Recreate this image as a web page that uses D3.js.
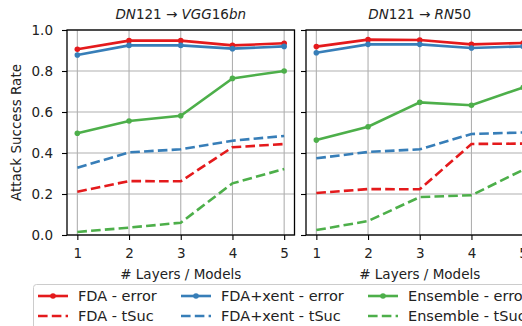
<!DOCTYPE html>
<html>
<head>
<meta charset="utf-8">
<script src="https://cdn.jsdelivr.net/npm/d3@7"></script>
<style>
  body { margin: 0; background: #fff; }
  text { font-family: "DejaVu Sans", sans-serif; }
</style>
</head>
<body>
<script>
// x values: number of layers / models
var layers = [1, 2, 3, 4, 5];
var yTicks = [0.0, 0.2, 0.4, 0.6, 0.8, 1.0];

// DN121 -> VGG16bn
var vggFdaErr   = [0.906, 0.948, 0.948, 0.925, 0.935];
var vggXentErr  = [0.878, 0.925, 0.925, 0.909, 0.920];
var vggEnsErr   = [0.496, 0.556, 0.582, 0.764, 0.800];
var vggFdaSuc   = [0.211, 0.263, 0.262, 0.428, 0.444];
var vggXentSuc  = [0.328, 0.403, 0.418, 0.460, 0.483];
var vggEnsSuc   = [0.015, 0.036, 0.060, 0.252, 0.322];

// DN121 -> RN50
var rnFdaErr    = [0.919, 0.953, 0.951, 0.930, 0.937];
var rnXentErr   = [0.889, 0.930, 0.930, 0.912, 0.920];
var rnEnsErr    = [0.463, 0.528, 0.647, 0.633, 0.720];
var rnFdaSuc    = [0.205, 0.224, 0.223, 0.444, 0.446];
var rnXentSuc   = [0.374, 0.405, 0.418, 0.493, 0.500];
var rnEnsSuc    = [0.024, 0.068, 0.185, 0.194, 0.318];

var red = '#e41a1c', blue = '#377eb8', green = '#4daf4a';

var panels = [
  { title: [['DN', 'i'], ['121', 'n'], [' \u2192 ', 'n'], ['VGG', 'i'], ['16', 'n'], ['bn', 'i']],
    x0: 67, series: [
      { name: 'FDA - error', v: vggFdaErr, c: red, dash: false },
      { name: 'FDA+xent - error', v: vggXentErr, c: blue, dash: false },
      { name: 'Ensemble - error', v: vggEnsErr, c: green, dash: false },
      { name: 'FDA - tSuc', v: vggFdaSuc, c: red, dash: true },
      { name: 'FDA+xent - tSuc', v: vggXentSuc, c: blue, dash: true },
      { name: 'Ensemble - tSuc', v: vggEnsSuc, c: green, dash: true } ] },
  { title: [['DN', 'i'], ['121', 'n'], [' \u2192 ', 'n'], ['RN', 'i'], ['50', 'n']],
    x0: 306, series: [
      { name: 'FDA - error', v: rnFdaErr, c: red, dash: false },
      { name: 'FDA+xent - error', v: rnXentErr, c: blue, dash: false },
      { name: 'Ensemble - error', v: rnEnsErr, c: green, dash: false },
      { name: 'FDA - tSuc', v: rnFdaSuc, c: red, dash: true },
      { name: 'FDA+xent - tSuc', v: rnXentSuc, c: blue, dash: true },
      { name: 'Ensemble - tSuc', v: rnEnsSuc, c: green, dash: true } ] }
];

var W = 522, H = 326;
var plotTop = 30, plotBottom = 235, pw = 227.5;

var svg = d3.select('body').append('svg')
  .attr('width', W).attr('height', H);

var yScale = d3.scaleLinear().domain([0, 1]).range([plotBottom, plotTop]);

panels.forEach(function (p, pi) {
  var xScale = d3.scaleLinear().domain([0.8, 5.2]).range([p.x0, p.x0 + pw]);
  var g = svg.append('g');

  // grid
  g.selectAll('.vg').data(layers).enter().append('line')
    .attr('x1', d => xScale(d)).attr('x2', d => xScale(d))
    .attr('y1', plotTop).attr('y2', plotBottom)
    .attr('stroke', '#b0b0b0').attr('stroke-width', 1.1);
  g.selectAll('.hg').data(yTicks).enter().append('line')
    .attr('x1', p.x0).attr('x2', p.x0 + pw)
    .attr('y1', d => yScale(d)).attr('y2', d => yScale(d))
    .attr('stroke', '#b0b0b0').attr('stroke-width', 1.1);

  // lines
  var line = d3.line().x((d, i) => xScale(layers[i])).y(d => yScale(d));
  p.series.forEach(function (s) {
    g.append('path').datum(s.v)
      .attr('d', line)
      .attr('fill', 'none')
      .attr('stroke', s.c)
      .attr('stroke-width', 2.6)
      .attr('stroke-dasharray', s.dash ? '9.6,4.2' : null);
    if (!s.dash) {
      g.selectAll(null).data(s.v).enter().append('circle')
        .attr('cx', (d, i) => xScale(layers[i]))
        .attr('cy', d => yScale(d))
        .attr('r', 2.8).attr('fill', s.c);
    }
  });

  // axes
  var xAxis = d3.axisBottom(xScale).tickValues(layers).tickFormat(d3.format('d'))
    .tickSize(5).tickPadding(8);
  var gx = g.append('g').attr('transform', 'translate(0,' + plotBottom + ')').call(xAxis);
  var yAxis = d3.axisLeft(yScale).tickValues(yTicks)
    .tickFormat(pi === 0 ? d3.format('.1f') : '').tickSize(5).tickPadding(9);
  var gy = g.append('g').attr('transform', 'translate(' + p.x0 + ',0)').call(yAxis);
  [gx, gy].forEach(function (a) {
    a.select('.domain').remove();
    a.selectAll('.tick line').attr('stroke', '#000').attr('stroke-width', 1.1);
    a.selectAll('.tick text').attr('fill', '#222').style('font-size', '13.5px')
      .style('font-family', '"DejaVu Sans", sans-serif');
  });

  // spines
  g.append('rect').attr('x', p.x0).attr('y', plotTop).attr('width', pw).attr('height', plotBottom - plotTop)
    .attr('fill', 'none').attr('stroke', '#000').attr('stroke-width', 1.3);

  // title
  var t = g.append('text').attr('x', p.x0 + pw / 2).attr('y', 19)
    .attr('text-anchor', 'middle').style('font-size', '13.5px').attr('fill', '#222');
  p.title.forEach(function (part) {
    t.append('tspan').text(part[0]).style('font-style', part[1] === 'i' ? 'italic' : 'normal');
  });

  // x label
  g.append('text').attr('x', p.x0 + pw / 2).attr('y', 279)
    .attr('text-anchor', 'middle').style('font-size', '13.5px').attr('fill', '#222')
    .text('# Layers / Models');
});

// y label
svg.append('text')
  .attr('transform', 'translate(21,' + ((plotTop + plotBottom) / 2) + ') rotate(-90)')
  .attr('text-anchor', 'middle').style('font-size', '13.5px').attr('fill', '#222')
  .text('Attack Success Rate');

// legend
var legendItems = panels[0].series;
var lg = svg.append('g');
lg.append('rect').attr('x', 33.5).attr('y', 284.5).attr('width', 520).attr('height', 60)
  .attr('rx', 3).attr('fill', '#fff').attr('fill-opacity', 0.85)
  .attr('stroke', '#cccccc').attr('stroke-width', 1);
var colX = [38, 181, 368];
var rowY = [296, 316];
legendItems.forEach(function (s, i) {
  var col = i % 3, row = Math.floor(i / 3);
  var x = colX[col], y = rowY[row];
  lg.append('line').attr('x1', x).attr('x2', x + 30).attr('y1', y).attr('y2', y)
    .attr('stroke', s.c).attr('stroke-width', 2.6)
    .attr('stroke-dasharray', s.dash ? '9.6,4.2' : null);
  if (!s.dash) {
    lg.append('circle').attr('cx', x + 15).attr('cy', y).attr('r', 2.8).attr('fill', s.c);
  }
  lg.append('text').attr('x', x + 40).attr('y', y + 5)
    .style('font-size', '14.5px').attr('fill', '#222').text(s.name);
});
</script>
</body>
</html>
